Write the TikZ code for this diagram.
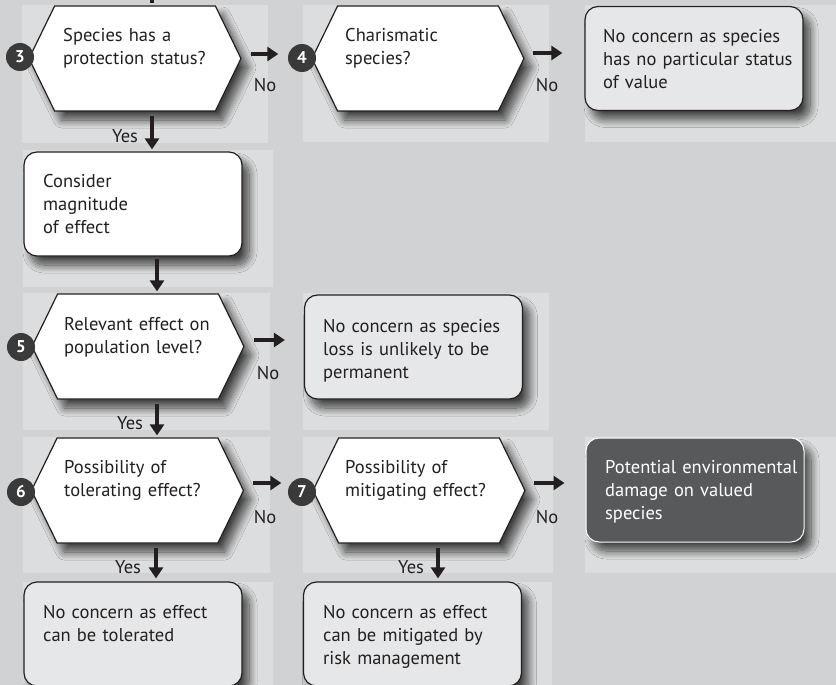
\documentclass[tikz,border=0pt]{standalone}
\usepackage{fontspec}
\setmainfont{PT Sans}
\usetikzlibrary{shapes.symbols,arrows.meta,shadows.blur}
\definecolor{bgc}{HTML}{D1D2D4}
\definecolor{panelc}{HTML}{DCDDDE}
\definecolor{boxc}{HTML}{E6E7E8}
\definecolor{darkc}{HTML}{58595B}
\definecolor{linec}{HTML}{231F20}
\definecolor{circc}{HTML}{3A3A3A}
\begin{document}
\begin{tikzpicture}[x=1pt,y=-1pt,
  panel/.style={fill=panelc, draw=none},
  shad/.style={blur shadow={shadow xshift=7pt, shadow yshift=-9pt, shadow blur radius=8pt, shadow blur steps=14, shadow opacity=70}},
  hexa/.style={signal, signal to=west and east, signal pointer angle=128, minimum width=212pt, minimum height=105pt, inner sep=0pt, draw=linec, line width=1.2pt, fill=white, shad},
  rbox/.style={rectangle, rounded corners=13pt, minimum width=218pt, minimum height=104pt, inner sep=0pt, draw=linec, line width=1.2pt, fill=boxc, shad},
  wbox/.style={rbox, fill=white},
  dbox/.style={rbox, fill=darkc, draw=white, line width=1pt},
  txt/.style={font=\fontsize{18.5}{23}\selectfont, text width=220pt, align=left, inner sep=0pt, anchor=base west, text=linec},
  wtxt/.style={txt, text=white},
  lbl/.style={font=\fontsize{18.5}{23}\selectfont, inner sep=0pt, text=linec},
  circ/.style={circle, fill=circc, minimum size=28pt, inner sep=0pt, text=white, font=\fontsize{17}{17}\selectfont\bfseries},
  arr/.style={draw=linec, line width=3.3pt, -{Triangle[width=14pt,length=11pt]}}
]
\useasboundingbox (0,0) rectangle (836,685);
\fill[bgc] (0,0) rectangle (836,685);
% panels
\fill[panel] (22,5) rectangle (268,143);
\fill[panel] (303,5) rectangle (549,142);
\fill[panel] (585,5) rectangle (836,142);
\fill[panel] (23,150) rectangle (273,287);
\fill[panel] (23,293) rectangle (270,430);
\fill[panel] (303,293) rectangle (549,430);
\fill[panel] (23,437) rectangle (270,573);
\fill[panel] (303,437) rectangle (553,573);
\fill[panel] (585,437) rectangle (836,573);
\fill[panel] (23,582) rectangle (273,685);
\fill[panel] (305,582) rectangle (552,685);
% shapes
\node[hexa] (hex3) at (135,58.5) {};
\node[hexa] (hex4) at (418,58.5) {};
\node[rbox] (box1) at (694,58.5) {};
\node[wbox] (consider) at (133,204) {};
\node[hexa] (hex5) at (138,346.5) {};
\node[rbox] (loss) at (413.5,347) {};
\node[hexa] (hex6) at (137.5,490.5) {};
\node[hexa] (hex7) at (419,490.5) {};
\node[dbox] (dark) at (695,490) {};
\node[rbox] (tol) at (133,634) {};
\node[rbox] (mit) at (412.5,634) {};
% texts
\node[txt] (t3) at (63,42) {Species has a\\protection status?};
\node[txt] (t4) at (345,42) {Charismatic\\species?};
\node[txt] (tb1) at (603,43) {No concern as species\\has no particular status\\of value};
\node[txt] (tcon) at (43,187) {Consider\\magnitude\\of effect};
\node[txt] (t5) at (64,330) {Relevant effect on\\population level?};
\node[txt] (tloss) at (323,332) {No concern as species\\loss is unlikely to be\\permanent};
\node[txt] (t6) at (64,473) {Possibility of\\tolerating effect?};
\node[txt] (t7) at (345,473) {Possibility of\\mitigating effect?};
\node[wtxt] (tdark) at (605,473) {Potential environmental\\damage on valued\\species};
\node[txt] (ttol) at (43,618) {No concern as effect\\can be tolerated};
\node[txt] (tmit) at (323,618) {No concern as effect\\can be mitigated by\\risk management};
% number circles
\node[circ] (c3) at (20,57) {3};
\node[circ] (c4) at (302,58) {4};
\node[circ] (c5) at (21,347) {5};
\node[circ] (c6) at (21,492) {6};
\node[circ] (c7) at (302,492) {7};
% top stub
\coordinate (top0) at (152,0);
\coordinate (top1) at (152,3);
\draw[draw=linec, line width=3.3pt] (top0) -- (top1);
% vertical arrows
\draw[arr] ([shift={(17,4)}]hex3.south) -- ([shift={(19,-2)}]consider.north);
\draw[arr] ([shift={(24,2)}]consider.south) -- ([shift={(19,-2)}]hex5.north);
\draw[arr] ([shift={(19,4)}]hex5.south) -- ([shift={(19.5,-2)}]hex6.north);
\draw[arr] ([shift={(18.5,4)}]hex6.south) -- ([shift={(23,-3)}]tol.north);
\draw[arr] ([shift={(19,4)}]hex7.south) -- ([shift={(25.5,-3)}]mit.north);
% horizontal arrows
\draw[arr] ([shift={(9,-4.5)}]hex3.east) -- ([shift={(-33,-4.5)}]hex4.west);
\draw[arr] ([shift={(8,-5.5)}]hex4.east) -- ([shift={(-22,-5.5)}]box1.west);
\draw[arr] ([shift={(9,-6.5)}]hex5.east) -- ([shift={(-19,-7)}]loss.west);
\draw[arr] ([shift={(9,-7.5)}]hex6.east) -- ([shift={(-31,-7.5)}]hex7.west);
\draw[arr] ([shift={(8,-7.5)}]hex7.east) -- ([shift={(-21,-7)}]dark.west);
% labels
\node[lbl] (n1) at (265,85) {No};
\node[lbl] (n2) at (547,85) {No};
\node[lbl] (n3) at (268,373) {No};
\node[lbl] (n4) at (265,517) {No};
\node[lbl] (n5) at (547,517) {No};
\node[lbl] (y1) at (125,136) {Yes};
\node[lbl] (y2) at (130,423) {Yes};
\node[lbl] (y3) at (128,567) {Yes};
\node[lbl] (y4) at (411,567) {Yes};
\end{tikzpicture}
\end{document}
